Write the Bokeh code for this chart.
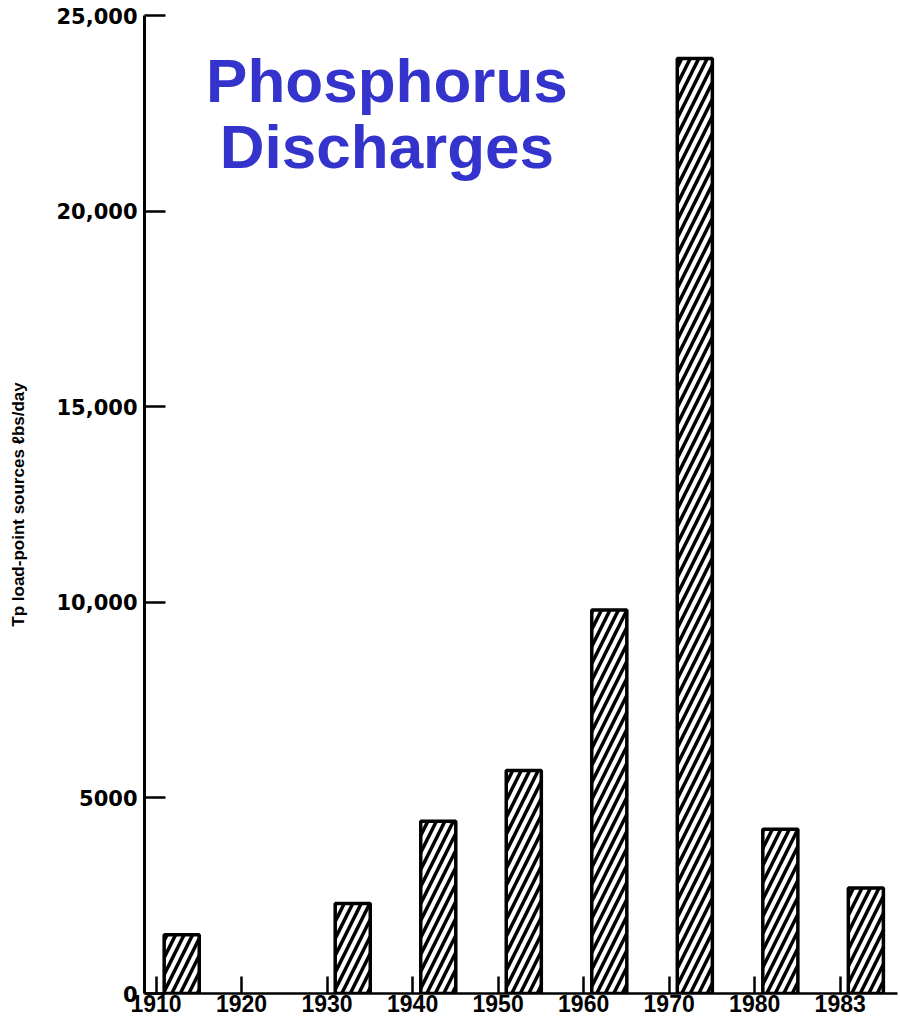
from bokeh.plotting import figure
from bokeh.models import Range1d, FixedTicker, ColumnDataSource, Label
from bokeh.transform import dodge
from bokeh.embed import file_html
from bokeh.resources import INLINE

# ---- data ----
tick_years = ["1910", "1920", "1930", "1940", "1950", "1960", "1970", "1980", "1983"]
bar_years = ["1910", "1930", "1940", "1950", "1960", "1970", "1980", "1983"]
loads = [1500, 2300, 4400, 5700, 9800, 23900, 4200, 2700]
y_ticks = [0, 5000, 10000, 15000, 20000, 25000]
y_tick_labels = ["0", "5000", "10,000", "15,000", "20,000", "25,000"]
title_lines = ["Phosphorus", "Discharges"]
y_label = "Tp load-point sources \u2113bs/day"

slots = list(range(len(tick_years)))
src = ColumnDataSource(dict(
    x=[tick_years.index(y) for y in bar_years],
    load=loads,
    year=bar_years,
))

p = figure(width=900, height=1019, output_backend="svg", toolbar_location=None,
           x_range=Range1d(-0.135, 8.67), y_range=Range1d(0, 25000),
           min_border_left=144, min_border_right=3, min_border_top=15, min_border_bottom=26)
p.outline_line_color = None
p.xgrid.grid_line_color = None
p.ygrid.grid_line_color = None
p.background_fill_color = "white"
p.border_fill_color = "white"

p.vbar(x=dodge("x", 0.3, range=p.x_range), top="load", width=0.41, source=src,
       fill_color="white", line_color="black", line_width=3.5,
       hatch_pattern="/", hatch_color="black", hatch_weight=3.5, hatch_scale=17)

# x axis
xa = p.xaxis[0]
xa.ticker = FixedTicker(ticks=slots)
xa.major_label_overrides = {i: y for i, y in zip(slots, tick_years)}
xa.axis_line_width = 2.5
xa.axis_line_color = "black"
xa.major_tick_in = 17
xa.major_tick_out = 0
xa.major_tick_line_width = 2.5
xa.minor_tick_line_color = None
xa.major_label_text_font = "Liberation Sans"
xa.major_label_text_font_style = "bold"
xa.major_label_text_font_size = "23px"
xa.major_label_text_color = "black"
xa.major_label_standoff = 1

# y axis
ya = p.yaxis[0]
ya.ticker = FixedTicker(ticks=y_ticks)
ya.major_label_overrides = {v: s for v, s in zip(y_ticks, y_tick_labels)}
ya.axis_line_width = 3
ya.axis_line_color = "black"
ya.major_tick_in = 21
ya.major_tick_out = 0
ya.major_tick_line_width = 2.5
ya.minor_tick_line_color = None
ya.major_label_text_font = "DejaVu Sans"
ya.major_label_text_font_style = "bold"
ya.major_label_text_font_size = "21px"
ya.major_label_text_color = "black"
ya.major_label_standoff = 7
ya.axis_label = y_label
ya.axis_label_text_font = "Liberation Sans"
ya.axis_label_text_font_style = "bold"
ya.axis_label_text_font_size = "17px"
ya.axis_label_text_color = "black"
ya.axis_label_standoff = 25

# title inside the plot
for line, yv in zip(title_lines, [23340, 21650]):
    p.add_layout(Label(x=2.7, y=yv, text=line, text_align="center",
                       text_baseline="alphabetic", text_font="Liberation Sans",
                       text_font_style="bold", text_font_size="62px",
                       text_color="#3434CC"))

open("out.html", "w").write(file_html(p, INLINE))
